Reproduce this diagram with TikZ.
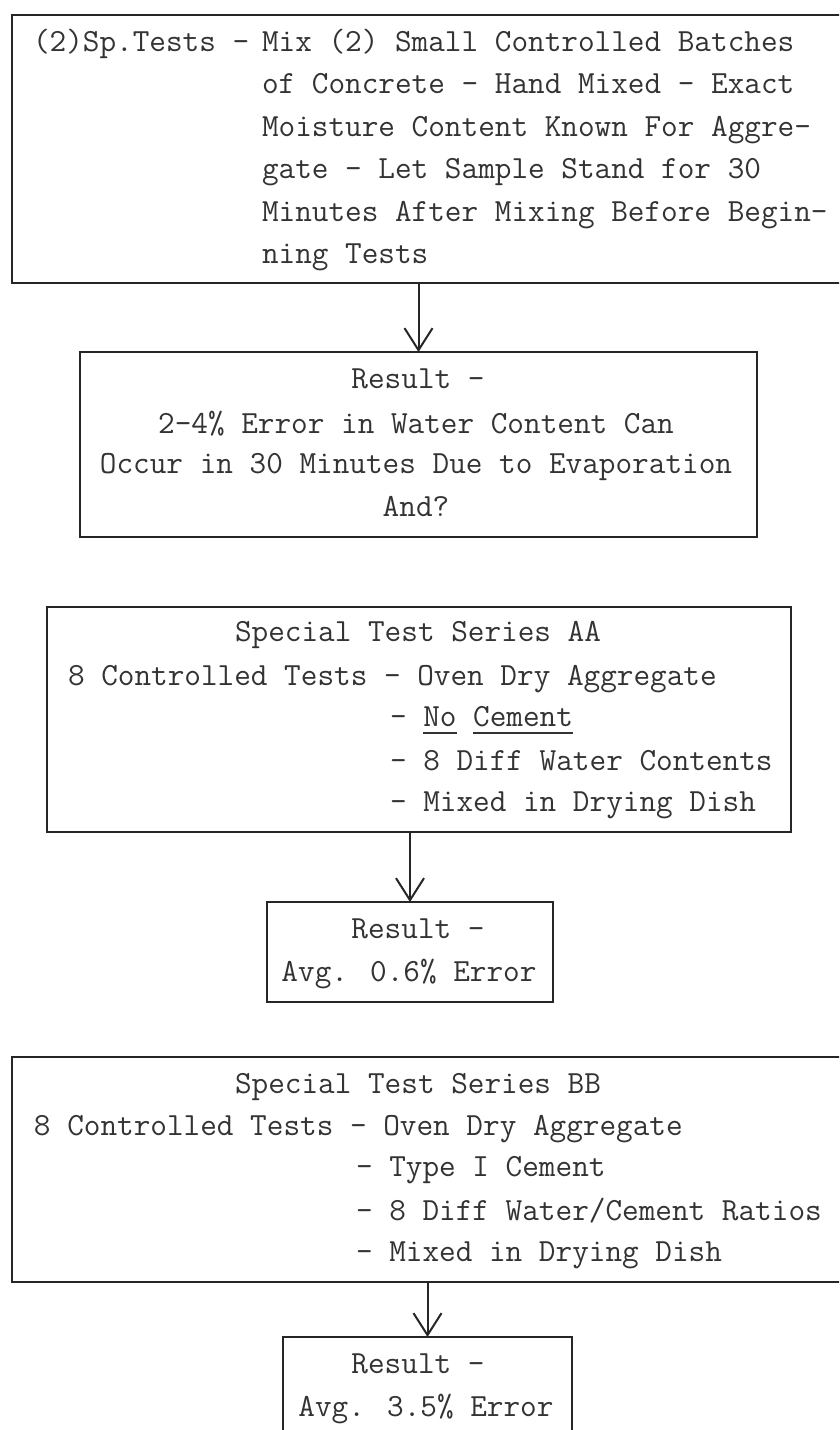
\documentclass[tikz,border=0pt]{standalone}
\usetikzlibrary{arrows.meta}
\newcommand\ulx[1]{\setbox0=\hbox{#1}\rlap{\vrule width\wd0 height -6pt depth 8pt}\box0\relax}
\begin{document}
\begin{tikzpicture}[x=1pt,y=-1pt,
  box/.style={draw=black!85, line width=2.2pt, inner sep=0pt, outer sep=0pt, rectangle},
  txt/.style={inner sep=0pt, outer sep=0pt, font=\fontsize{32.3}{40}\selectfont\ttfamily, text=black!80},
  arr/.style={draw=black!85, line width=2pt, -{Straight Barb[length=22pt,width=28pt,line width=2pt]}}]
\useasboundingbox (0,0) rectangle (839,1430);
\clip (0,0) rectangle (839,1430);
\fill[white] (0,0) rectangle (839,1430);
% boxes
\node[box, minimum width=858pt, minimum height=268pt] (b1) at (441,149) {};
\node[box, minimum width=677pt, minimum height=185pt] (b2) at (418.5,444.5) {};
\node[box, minimum width=744pt, minimum height=225pt] (b3) at (419,719.5) {};
\node[box, minimum width=286pt, minimum height=100pt] (b4) at (410,952) {};
\node[box, minimum width=858pt, minimum height=225pt] (b5) at (441,1169.5) {};
\node[box, minimum width=289pt, minimum height=123pt] (b6) at (427.5,1398.5) {};
% connectors
\draw[arr] (b1.south -| b2.north) -- (b2.north);
\draw[arr] (b3.south -| b4.north) -- (b4.north);
\draw[arr] (b5.south -| b6.north) -- (b6.north);
% box 1 text
\node[txt, anchor=base west] (t1a) at (33,51) {(2)Sp.Tests -};
\node[txt, anchor=base west] (t1b) at (262,51) {Mix (2) Small Controlled Batches};
\node[txt, anchor=base west] (t1c) at (262,93) {of Concrete - Hand Mixed - Exact};
\node[txt, anchor=base west] (t1d) at (262,136) {Moisture Content Known For Aggre-};
\node[txt, anchor=base west] (t1e) at (262,178) {gate - Let Sample Stand for 30};
\node[txt, anchor=base west] (t1f) at (262,221) {Minutes After Mixing Before Begin-};
\node[txt, anchor=base west] (t1g) at (262,263) {ning Tests};
% box 2 text
\node[txt, anchor=base] (t2a) at (418,388) {Result -};
\node[txt, anchor=base] (t2b) at (416,433) {2-4\% Error in Water Content Can};
\node[txt, anchor=base] (t2c) at (416,473) {Occur in 30 Minutes Due to Evaporation};
\node[txt, anchor=base] (t2d) at (416,516) {And?};
% box 3 text
\node[txt, anchor=base] (t3a) at (418,641) {Special Test Series AA};
\node[txt, anchor=base west] (t3b) at (68,685) {8 Controlled Tests - Oven Dry Aggregate};
\node[txt, anchor=base west] (t3d) at (390,726) {- \ulx{No} \ulx{Cement}};
\node[txt, anchor=base west] (t3e) at (390,770) {- 8 Diff Water Contents};
\node[txt, anchor=base west] (t3f) at (390,811) {- Mixed in Drying Dish};
% box 4 text
\node[txt, anchor=base] (t4a) at (418,938) {Result -};
\node[txt, anchor=base] (t4b) at (409,981) {Avg. 0.6\% Error};
% box 5 text
\node[txt, anchor=base] (t5a) at (418,1093) {Special Test Series BB};
\node[txt, anchor=base west] (t5b) at (34,1135) {8 Controlled Tests - Oven Dry Aggregate};
\node[txt, anchor=base west] (t5d) at (356,1176) {- Type I Cement};
\node[txt, anchor=base west] (t5e) at (356,1220) {- 8 Diff Water/Cement Ratios};
\node[txt, anchor=base west] (t5f) at (356,1261) {- Mixed in Drying Dish};
% box 6 text
\node[txt, anchor=base] (t6a) at (418,1373) {Result -};
\node[txt, anchor=base] (t6b) at (426,1416) {Avg. 3.5\% Error};
\end{tikzpicture}
\end{document}
